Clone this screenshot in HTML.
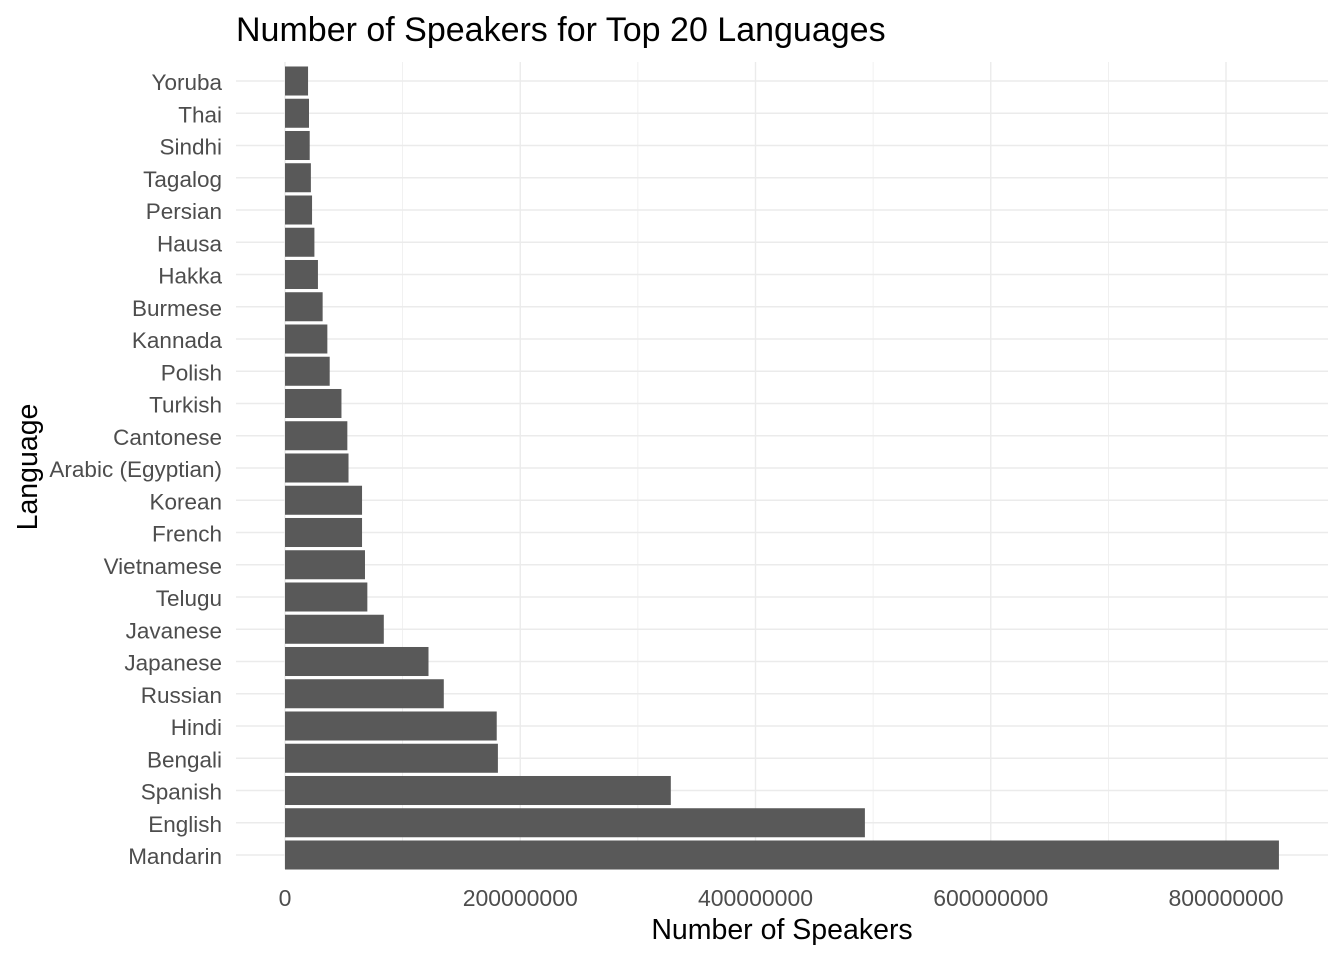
<!DOCTYPE html>
<html><head><meta charset="utf-8"><style>
html,body{margin:0;padding:0;background:#fff;}
svg{display:block;font-family:"Liberation Sans",Arial,sans-serif;}
</style></head><body>
<svg id="chart" width="1344" height="960"></svg>
<script>
const categories=["Mandarin","English","Spanish","Bengali","Hindi","Russian","Japanese","Javanese","Telugu","Vietnamese","French","Korean","Arabic (Egyptian)","Cantonese","Turkish","Polish","Kannada","Burmese","Hakka","Hausa","Persian","Tagalog","Sindhi","Thai","Yoruba"];
const speakers=[845000000,493000000,328000000,181000000,180000000,135000000,122000000,84000000,70000000,68000000,65500000,65500000,54000000,53000000,48000000,38000000,36000000,32000000,28000000,25000000,23000000,22000000,21000000,20400000,19600000];
const xTicks=[0,200000000,400000000,600000000,800000000];
const xTickLabels=["0","200000000","400000000","600000000","800000000"];

const NS="http://www.w3.org/2000/svg";
const svg=document.getElementById('chart');
const panel={l:236,r:1328,t:62,b:869};
const x0=285,pxPer200M=235.25;
function xs(v){return x0+v/200000000*pxPer200M;}
const step=(855-81)/(categories.length-1);
function ys(i){return 855-i*step;}
function el(tag,attrs,parent){const e=document.createElementNS(NS,tag);for(const k in attrs)e.setAttribute(k,attrs[k]);(parent||svg).appendChild(e);return e;}

const grid=el('g',{});


for(let i=0;i<xTicks.length;i++){
  for(const v of [xTicks[i], xTicks[i]+100000000]){
    const x=xs(v); if(x>panel.r) continue;
    const l=el('line',{x1:x,x2:x,y1:panel.t,y2:panel.b,stroke:'#ebebeb','stroke-width':v===xTicks[i]?1.4:0.7},grid);
    
    
  }
}
categories.forEach((c,i)=>{
  const l=el('line',{x1:panel.l,x2:panel.r,y1:ys(i),y2:ys(i),stroke:'#ebebeb','stroke-width':1.4},grid);
  
  
});
const bh=step*0.9;
categories.forEach((c,i)=>{
  const r=el('rect',{x:xs(0),y:ys(i)-bh/2,width:xs(speakers[i])-xs(0),height:bh,fill:'#595959'});
  
  
  const t=el('text',{x:222,y:ys(i)+9,'text-anchor':'end','font-size':22.5,fill:'#4d4d4d'});
  t.textContent=c;
  
  
});
xTicks.forEach((v,i)=>{
  const t=el('text',{x:xs(v),y:906,'text-anchor':'middle','font-size':23,fill:'#4d4d4d'});
  t.textContent=xTickLabels[i];
  
  
});
const xt=el('text',{x:782,y:939,'text-anchor':'middle','font-size':28.5,fill:'#000'});
xt.textContent='Number of Speakers';


const yt=el('text',{x:0,y:0,'text-anchor':'middle','font-size':28.5,fill:'#000',transform:'translate(37,467) rotate(-90)'});
yt.textContent='Language';


const tt=el('text',{x:236,y:41,'font-size':34,fill:'#000'});
tt.textContent='Number of Speakers for Top 20 Languages';


</script>
</body></html>
